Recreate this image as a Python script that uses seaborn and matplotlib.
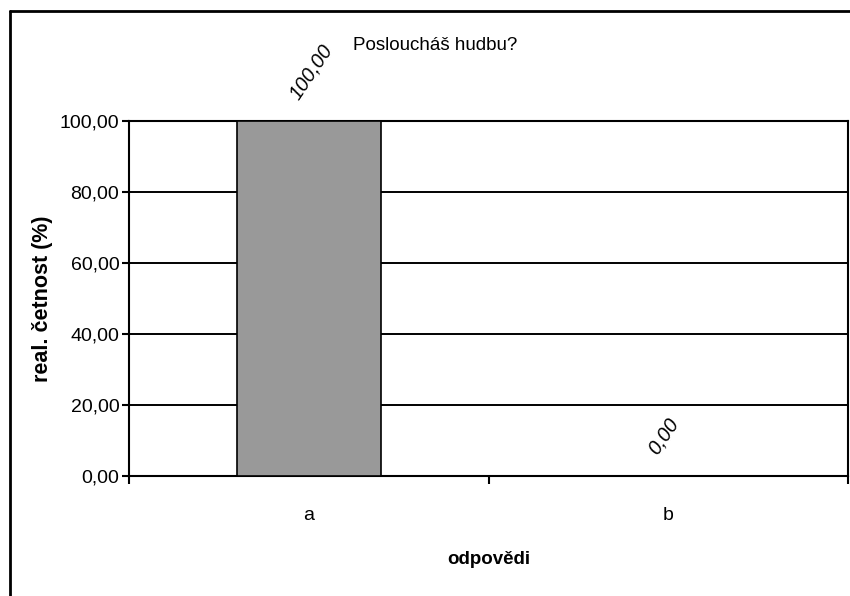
import matplotlib
matplotlib.use("Agg")
import matplotlib.pyplot as plt
import seaborn as sns
import pandas as pd
from matplotlib.lines import Line2D
from matplotlib.ticker import FuncFormatter, FixedLocator

# data
answers = ["a", "b"]
percent = [100.0, 0.0]
y_ticks = [0, 20, 40, 60, 80, 100]

title = "Posloucháš hudbu?"
x_label = "odpovědi"
y_label = "real. četnost (%)"


def fmt_cz(v):
    return f"{v:.2f}".replace(".", ",")


def main():
    sns.set_style("white")
    plt.rcParams['font.family'] = ['Liberation Sans', 'DejaVu Sans']
    plt.rcParams['text.color'] = 'black'
    plt.rcParams['axes.labelcolor'] = 'black'
    plt.rcParams['xtick.color'] = 'black'
    plt.rcParams['ytick.color'] = 'black'

    fig = plt.figure(figsize=(8.5, 5.96), dpi=100)
    ax = fig.add_axes([129 / 850, 1 - 476 / 596, 719 / 850, 355 / 596])

    df = pd.DataFrame({"odp": answers, "val": percent})
    sns.barplot(data=df, x="odp", y="val", ax=ax, width=0.4,
                color="#999999", saturation=1, edgecolor="black",
                linewidth=1.2, zorder=3)

    ax.set_xlim(-0.5, len(answers) - 0.5)
    ax.set_ylim(0, 100)
    ax.yaxis.set_major_locator(FixedLocator(y_ticks))
    ax.yaxis.set_major_formatter(FuncFormatter(lambda v, p: fmt_cz(v)))
    ax.grid(axis="y", color="black", linewidth=1.4, zorder=0)
    ax.set_axisbelow(True)

    for sp in ax.spines.values():
        sp.set_visible(True)
        sp.set_color("black")
        sp.set_linewidth(1.5)

    # category ticks without marks, boundary marks as minor ticks
    ax.set_xticks(range(len(answers)))
    ax.set_xticklabels(answers)
    ax.set_xticks([i - 0.5 for i in range(len(answers) + 1)], minor=True)
    ax.tick_params(axis="x", which="major", length=0, pad=22, labelsize=14)
    ax.tick_params(axis="x", which="minor", length=6, width=1.5,
                   direction="out", bottom=True)
    ax.tick_params(axis="y", length=5, width=1.5,
                   direction="out", left=True, labelsize=14, pad=2)

    ax.set_xlabel(x_label, fontsize=13.5, fontweight="bold", labelpad=20)
    ax.set_ylabel(y_label, fontsize=15.5, fontweight="bold", labelpad=5)

    for i, v in enumerate(percent):
        ax.annotate(fmt_cz(v), xy=(i, v), xytext=(-11, 17),
                    textcoords="offset points", rotation=56,
                    rotation_mode="anchor", ha="left", va="center",
                    fontsize=14.5, fontstyle="italic", annotation_clip=False)

    fig.text(435 / 850, 1 - 45 / 596, title, ha="center", va="center",
             fontsize=13.5)

    # outer chart border (only left and top visible in the crop)
    fig.add_artist(Line2D([10 / 850, 10 / 850], [0, 1 - 11 / 596],
                          color="black", linewidth=2, transform=fig.transFigure))
    fig.add_artist(Line2D([10 / 850, 1], [1 - 11 / 596, 1 - 11 / 596],
                          color="black", linewidth=2, transform=fig.transFigure))

    fig.savefig("out.png", dpi=100)


if __name__ == "__main__":
    main()
